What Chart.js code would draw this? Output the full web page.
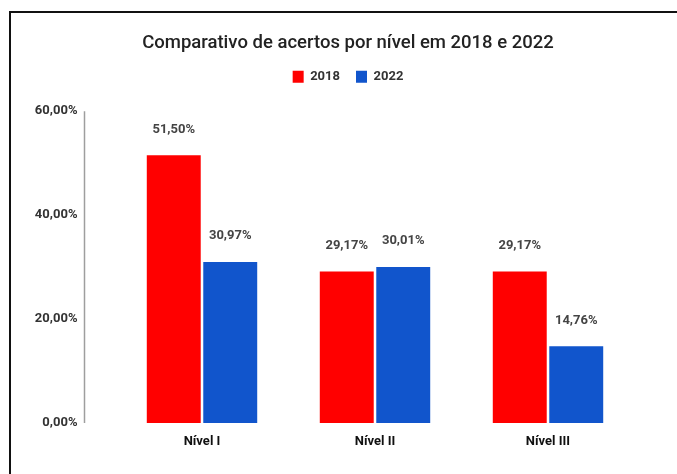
<!DOCTYPE html>
<html>
<head>
<meta charset="utf-8">
<script src="https://cdn.jsdelivr.net/npm/chart.js@4"></script>
<style>
  html, body { margin: 0; padding: 0; background: #fff; }
  #wrap { position: relative; width: 677px; height: 474px; overflow: hidden; }
  #frame {
    position: absolute; left: 9px; top: 11px; right: -10px; bottom: -10px;
    border-left: 2px solid #111; border-top: 2px solid #111;
    pointer-events: none;
  }
  canvas { position: absolute; left: 0; top: 0; }
</style>
</head>
<body>
<div id="wrap">
  <canvas id="chart" width="677" height="474"></canvas>
  <div id="frame"></div>
</div>
<script>
const niveis = ['Nível I', 'Nível II', 'Nível III'];
const anos = ['2018', '2022'];
const acertos2018 = [51.50, 29.17, 29.17];
const acertos2022 = [30.97, 30.01, 14.76];
const yTicks = [0, 20, 40, 60];

const fmt = v => v.toFixed(2).replace('.', ',') + '%';
const labelFont = { family: 'Roboto, sans-serif', size: 13, weight: 'bold' };

// y axis: grey line set off from the plot, with its tick labels to the left
const yAxisDecor = {
  id: 'yAxisDecor',
  afterDraw(chart) {
    const y = chart.scales.y;
    const ctx = chart.ctx;
    const lineX = chart.chartArea.left - 31;
    ctx.save();
    ctx.strokeStyle = '#9e9e9e';
    ctx.lineWidth = 1.5;
    ctx.beginPath();
    ctx.moveTo(lineX, y.getPixelForValue(yTicks[yTicks.length - 1]));
    ctx.lineTo(lineX, y.getPixelForValue(yTicks[0]));
    ctx.stroke();
    ctx.font = 'bold 13px Roboto, sans-serif';
    ctx.fillStyle = '#333';
    ctx.textAlign = 'right';
    ctx.textBaseline = 'middle';
    yTicks.forEach(v => ctx.fillText(fmt(v), lineX - 7, y.getPixelForValue(v)));
    ctx.restore();
  }
};

// value labels above each bar
const valueLabels = {
  id: 'valueLabels',
  afterDatasetsDraw(chart) {
    const ctx = chart.ctx;
    ctx.save();
    ctx.font = 'bold 13px Roboto, sans-serif';
    ctx.fillStyle = '#444';
    ctx.textAlign = 'center';
    ctx.textBaseline = 'middle';
    chart.data.datasets.forEach((ds, i) => {
      chart.getDatasetMeta(i).data.forEach((bar, j) => {
        ctx.fillText(fmt(ds.data[j]), bar.x, bar.y - 26);
      });
    });
    ctx.restore();
  }
};

// leave more room between the legend and the plot
const legendGap = {
  id: 'legendGap',
  afterInit(chart) {
    const legend = chart.legend;
    const fit = legend.fit;
    legend.fit = function () {
      fit.call(this);
      this.height += 18;
    };
  }
};

new Chart(document.getElementById('chart'), {
  type: 'bar',
  data: {
    labels: niveis,
    datasets: [
      { label: anos[0], data: acertos2018, backgroundColor: '#ff0000' },
      { label: anos[1], data: acertos2022, backgroundColor: '#1155cc' }
    ]
  },
  options: {
    responsive: false,
    animation: false,
    categoryPercentage: 0.653,
    barPercentage: 0.955,
    layout: { padding: { top: 0, right: 42.5, bottom: 0, left: 61.5 } },
    plugins: {
      title: {
        display: true,
        text: 'Comparativo de acertos por nível em 2018 e 2022',
        color: '#222',
        font: { family: 'Roboto, sans-serif', size: 18.5, weight: '500' },
        padding: { top: 32, bottom: 0 }
      },
      legend: {
        labels: {
          color: '#333',
          font: labelFont,
          boxWidth: 11,
          boxHeight: 12,
          padding: 16
        }
      },
      tooltip: { enabled: false }
    },
    scales: {
      x: {
        grid: { display: false, drawTicks: false },
        border: { display: false },
        ticks: { color: '#111', font: labelFont, padding: 11 },
        afterFit(scale) { scale.height = 51; }
      },
      y: {
        min: 0,
        max: 60,
        afterBuildTicks(scale) { scale.ticks = yTicks.map(v => ({ value: v })); },
        grid: { display: false, drawTicks: false },
        border: { display: false },
        ticks: { display: false },
        afterFit(scale) { scale.width = 54; }
      }
    }
  },
  plugins: [yAxisDecor, valueLabels, legendGap]
});
</script>
</body>
</html>
